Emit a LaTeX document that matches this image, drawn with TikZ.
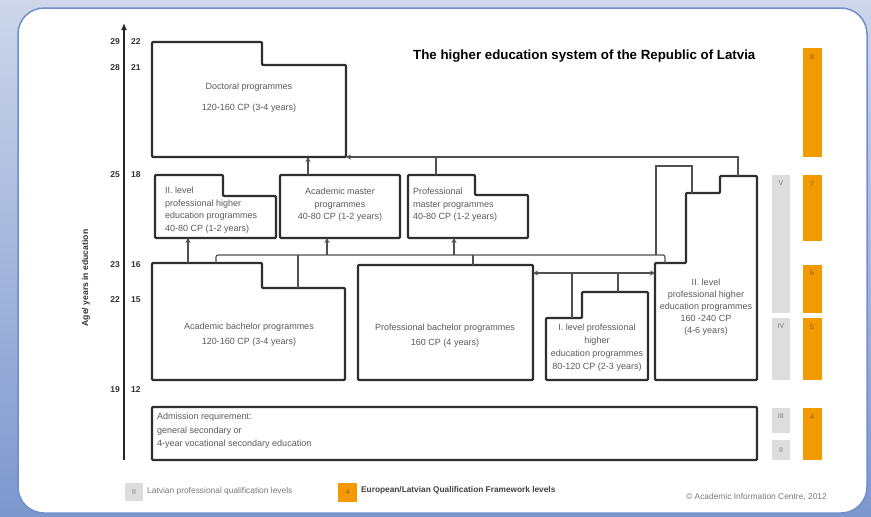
\documentclass[tikz,border=0pt]{standalone}
\usepackage{fontspec}
\setmainfont{Liberation Sans}
\usetikzlibrary{arrows.meta}

\definecolor{boxline}{HTML}{2F2F2F}
\definecolor{linkc}{HTML}{505050}
\definecolor{txtc}{HTML}{5A5A5A}
\definecolor{orangebar}{HTML}{F39A00}
\definecolor{orangetxt}{HTML}{8A5A10}
\definecolor{greybar}{HTML}{DDDDDD}
\definecolor{greytxt}{HTML}{7A7A7A}
\definecolor{frameblue}{HTML}{6F8FCB}
\definecolor{bgtop}{HTML}{CDD6EA}
\definecolor{bgbottom}{HTML}{7D97CE}

\tikzset{
  box/.style={draw=boxline, line width=2.2pt, line join=round, rounded corners=1pt},
  link/.style={draw=linkc, line width=1.2pt},
  uptip/.style={-{Stealth[length=5pt,width=5pt]}},
  bothtip/.style={{Stealth[length=5pt,width=5pt]}-{Stealth[length=5pt,width=5pt]}},
  txt/.style={text=txtc, inner sep=0pt, align=center, font=\fontsize{9}{12.5}\selectfont},
  ltxt/.style={txt, align=left},
  agenum/.style={text=black!80, inner sep=0pt, font=\bfseries\fontsize{8.5}{10}\selectfont},
  barlabel/.style={inner sep=0pt, font=\fontsize{7}{8}\selectfont},
}

\begin{document}
\begin{tikzpicture}[x=1pt,y=-1pt]
\useasboundingbox (0,0) rectangle (871,517);

% window frame
\fill[top color=bgtop, bottom color=bgbottom] (0,0) rectangle (871,517);
\draw[frameblue, line width=1.5pt, fill=white, rounded corners=26pt] (18,8) rectangle (867,513);

% title
\node[anchor=west, inner sep=0pt, font=\bfseries\fontsize{13.3}{15}\selectfont] (title) at (413,56)
  {The higher education system of the Republic of Latvia};

% age axis
\coordinate (axisbot) at (124,460);
\coordinate (axistop) at (124,23);
\draw[line width=2pt, draw=black!85, -{Latex[length=7pt,width=6pt]}] (axisbot) -- (axistop);
\foreach \yy/\a/\b in {42/29/22, 68/28/21, 175/25/18, 265/23/16, 300/22/15, 390/19/12}{
  \node[agenum, anchor=east] (agea-\a) at (120,\yy) {\a};
  \node[agenum, anchor=west] (ageb-\b) at (131,\yy) {\b};
}
\node[rotate=90, inner sep=0pt, text=black!80, font=\bfseries\fontsize{8.6}{10}\selectfont] (axislabel) at (86,278)
  {Age/ years in education};

% programme boxes
\draw[box] (152,42) -- (262,42) -- (262,65) -- (346,65) -- (346,157) -- (152,157) -- cycle;
\node[txt] (doc1) at (249,87) {Doctoral programmes};
\node[txt] (doc2) at (249,108) {120-160 CP (3-4 years)};

\draw[box] (155,175) -- (223,175) -- (223,196) -- (276,196) -- (276,238) -- (155,238) -- cycle;
\node[ltxt, anchor=north west] (prof2m) at (165,187)
  {II. level\\professional higher\\education programmes\\40-80 CP (1-2 years)};

\draw[box] (280,175) rectangle (400,238);
\node[txt] (acmaster) at (340,205) {Academic master\\programmes\\40-80 CP (1-2 years)};

\draw[box] (408,175) -- (475,175) -- (475,195) -- (528,195) -- (528,238) -- (408,238) -- cycle;
\node[ltxt, anchor=north west] (prmaster) at (413,188)
  {Professional\\master programmes\\40-80 CP (1-2 years)};

\draw[box] (152,263) -- (262,263) -- (262,288) -- (345,288) -- (345,380) -- (152,380) -- cycle;
\node[txt, font=\fontsize{9}{15}\selectfont] (acbach) at (249,335)
  {Academic bachelor programmes\\120-160 CP (3-4 years)};

\draw[box] (358,265) rectangle (533,380);
\node[txt, font=\fontsize{9}{15}\selectfont] (prbach) at (445,336)
  {Professional bachelor programmes\\160 CP (4 years)};

\draw[box] (546,318) -- (582,318) -- (582,292) -- (648,292) -- (648,380) -- (546,380) -- cycle;
\node[txt, font=\fontsize{9}{13}\selectfont] (prof1) at (597,348)
  {I. level professional\\higher\\education programmes\\80-120 CP (2-3 years)};

\draw[box] (720,176) -- (757,176) -- (757,380) -- (655,380) -- (655,263) -- (686,263) -- (686,193) -- (720,193) -- cycle;
\node[txt, font=\fontsize{9}{12}\selectfont] (prof2) at (706,307)
  {II. level\\professional higher\\education programmes\\160 -240 CP\\(4-6 years)};

\draw[box] (152,407) rectangle (757,460);
\node[ltxt, anchor=north west, font=\fontsize{9}{13.5}\selectfont] (admit) at (157,413)
  {Admission requirement:\\general secondary or\\4-year vocational secondary education};

% connector end points
\coordinate (docA) at (308,157);   \coordinate (amA) at (308,175);
\coordinate (docC) at (346,157);   \coordinate (busR) at (738,157);  \coordinate (bigT) at (738,176);
\coordinate (pmA) at (436,175);    \coordinate (pmAb) at (436,157);
\coordinate (p2mB) at (188,238);   \coordinate (abA) at (188,263);
\coordinate (abB) at (216,263);    \coordinate (busL) at (216,255);
\coordinate (busE) at (665,255);   \coordinate (bigS) at (665,263);
\coordinate (abC) at (298,288);    \coordinate (abCb) at (298,255);
\coordinate (amB) at (327,238);    \coordinate (amBb) at (327,255);
\coordinate (pmB) at (454,238);    \coordinate (pmBb) at (454,255);
\coordinate (pbA) at (473,265);    \coordinate (pbAb) at (473,255);
\coordinate (loopB) at (656,255);  \coordinate (loopT) at (656,166);
\coordinate (loopR) at (692,166);  \coordinate (bigU) at (692,193);
\coordinate (pbR) at (533,273);    \coordinate (bigL) at (655,273);
\coordinate (p1A) at (572,318);    \coordinate (p1Ab) at (572,273);
\coordinate (p1B) at (618,292);    \coordinate (p1Bb) at (618,273);

% connectors
\draw[link, uptip] (amA) -- (docA);
\draw[link, uptip] (bigT) -- (busR) -- (docC);
\draw[link] (pmA) -- (pmAb);
\draw[link, uptip] (abA) -- (p2mB);
\draw[link, rounded corners=2pt] (abB) -- (busL) -- (busE) -- (bigS);
\draw[link] (abC) -- (abCb);
\draw[link, uptip] (amBb) -- (amB);
\draw[link, uptip] (pmBb) -- (pmB);
\draw[link] (pbA) -- (pbAb);
\draw[link] (loopB) -- (loopT) -- (loopR) -- (bigU);
\draw[link, bothtip] (pbR) -- (bigL);
\draw[link] (p1A) -- (p1Ab);
\draw[link] (p1B) -- (p1Bb);

% qualification level bars
\fill[orangebar] (803,48) rectangle (822,157);
\fill[orangebar] (803,175) rectangle (822,241);
\fill[orangebar] (803,265) rectangle (822,313);
\fill[orangebar] (803,318) rectangle (822,380);
\fill[orangebar] (803,408) rectangle (822,460);
\node[barlabel, text=orangetxt] (eq8) at (812,57) {8};
\node[barlabel, text=orangetxt] (eq7) at (812,184) {7};
\node[barlabel, text=orangetxt] (eq6) at (812,273) {6};
\node[barlabel, text=orangetxt] (eq5) at (812,327) {5};
\node[barlabel, text=orangetxt] (eq4) at (812,417) {4};

\fill[greybar] (772,175) rectangle (790,313);
\fill[greybar] (772,318) rectangle (790,380);
\fill[greybar] (772,408) rectangle (790,433);
\fill[greybar] (772,440) rectangle (790,460);
\node[barlabel, text=greytxt] (lv5) at (781,183) {V};
\node[barlabel, text=greytxt] (lv4) at (781,326) {IV};
\node[barlabel, text=greytxt] (lv3) at (781,416) {III};
\node[barlabel, text=greytxt] (lv2) at (781,450) {II};

% legend
\fill[greybar] (125,483) rectangle (143,501);
\node[barlabel, text=greytxt] (leg2) at (134,492) {II};
\node[anchor=west, inner sep=0pt, text=greytxt, font=\fontsize{8.4}{10}\selectfont] (legA) at (147,491)
  {Latvian professional qualification levels};
\fill[orangebar] (338,483) rectangle (357,502);
\node[barlabel, text=orangetxt] (leg4) at (347.5,492) {4};
\node[anchor=west, inner sep=0pt, text=black!75, font=\bfseries\fontsize{8.3}{10}\selectfont] (legB) at (361,490)
  {European/Latvian Qualification Framework levels};
\node[anchor=east, inner sep=0pt, text=greytxt, font=\fontsize{8.4}{10}\selectfont] (copy) at (827,497)
  {© Academic Information Centre, 2012};
\end{tikzpicture}
\end{document}
